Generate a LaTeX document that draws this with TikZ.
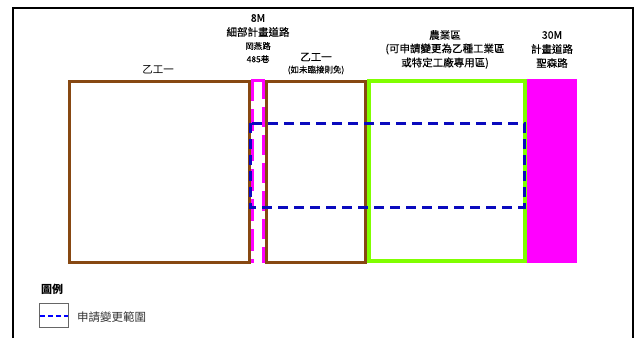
\documentclass[tikz,border=0pt]{standalone}
\usepackage{fontspec}
\setmainfont{Noto Sans CJK TC}
\newfontfamily\cjkmid[FakeBold=0.3]{Noto Sans CJK TC}
\definecolor{brownz}{RGB}{135,72,18}
\definecolor{greenz}{RGB}{128,255,0}
\definecolor{magz}{RGB}{255,0,255}
\definecolor{bluez}{RGB}{10,10,190}
\tikzset{
  zone/.style={draw=brownz,line width=3pt},
  agri/.style={draw=greenz,line width=4pt},
  roadline/.style={draw=magz,line width=3pt},
  applyrange/.style={draw=bluez,line width=3pt,dash pattern=on 10pt off 6pt},
  lbl/.style={font=\cjkmid\fontsize{10.5}{11}\selectfont,inner sep=0pt,align=center},
  slbl/.style={font=\cjkmid\fontsize{8.5}{9.5}\selectfont,inner sep=0pt,align=center},
}
\begin{document}
\begin{tikzpicture}[x=1pt,y=-1pt]
\useasboundingbox (0,0) rectangle (635,338);
% outer frame (open at bottom)
\draw[line width=2.5pt] (13,338) -- (13,8) -- (633,8) -- (633,338);
% zones
\draw[zone] (69,81) rectangle (249,262);
\draw[zone] (266.5,81) rectangle (365.5,262);
\draw[agri] (369,81) rectangle (525,261);
\fill[magz] (527,79) rectangle (577,263);
% narrow road
\draw[roadline] (252.5,80) -- (263.5,80);
\draw[roadline,dash pattern=on 22pt off 8pt] (252.5,79) -- (252.5,263);
\draw[roadline,dash pattern=on 20pt off 8pt] (263.5,79) -- (263.5,263);
% application range
\draw[applyrange] (250,123) rectangle (524,207);
% labels
\node[lbl,font=\fontsize{10.5}{11}\selectfont] (z1) at (158,70) {乙工一};
\node[lbl] (r8) at (258,18) {8M};
\node[lbl] (r8b) at (258,32) {細部計畫道路};
\node[slbl] (r8c) at (258,46) {岡燕路};
\node[slbl] (r8d) at (258,59) {485巷};
\node[lbl] (z2) at (316,57) {乙工一};
\node[slbl] (z2b) at (316,70) {(如未臨接則免)};
\node[lbl] (ag1) at (445,35) {農業區};
\node[lbl] (ag2) at (445,49) {(可申請變更為乙種工業區};
\node[lbl] (ag3) at (445,63) {或特定工廠專用區)};
\node[lbl] (r30) at (552,35) {30M};
\node[lbl] (r30b) at (552,49) {計畫道路};
\node[lbl] (r30c) at (552,63) {聖森路};
% legend
\node[font=\fontsize{11}{12}\selectfont\bfseries,inner sep=0pt,anchor=west] (leg) at (41,289) {圖例};
\draw[draw=black!60,line width=0.8pt,fill=white] (39,303) rectangle (68,327);
\draw[draw=blue,line width=2pt,dash pattern=on 5pt off 3pt] (40,316) -- (68,316);
\node[font=\fontsize{11.5}{12}\selectfont,text=black!80,inner sep=0pt,anchor=west] (legt) at (77,317) {申請變更範圍};
\end{tikzpicture}
\end{document}
